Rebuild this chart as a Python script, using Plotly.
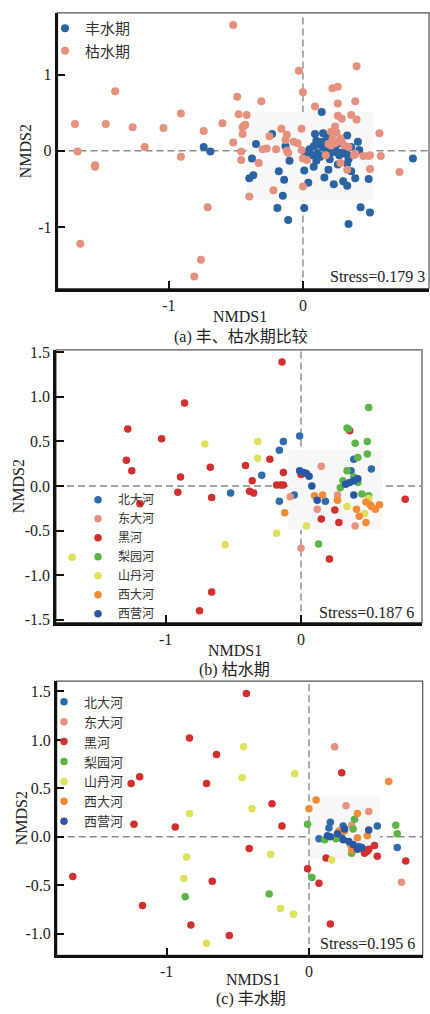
import plotly.graph_objects as go

# ---------------- Panel (a) data ----------------
a_wet_x = [-0.74, -0.69, -0.35, -0.23, -0.13, 0.14, 0.09, 0.15, 0.18, 0.33, 0.10, 0.41, 0.42,
           0.05, 0.08, 0.12, 0.15, 0.11, 0.07, 0.13, 0.18, 0.22, 0.26, 0.29, 0.33, 0.27, 0.31,
           0.20, 0.24, 0.17, 0.36, 0.03, 0.14, 0.20, 0.28,
           -0.38, -0.10, 0.01, 0.10, 0.20, 0.34, 0.33, 0.26, 0.08, 0.01, 0.19, -0.18, 0.36,
           -0.37, -0.40, -0.14, 0.16, 0.04, 0.23, 0.30, 0.33, 0.39, 0.49, -0.15, 0.82,
           -0.19, 0.01, 0.43, 0.50, -0.11, 0.34]
a_wet_y = [0.05, -0.01, 0.09, 0.22, 0.06, 0.51, 0.22, 0.23, 0.17, 0.20, 0.13, 0.12, 0.01,
           0.02, 0.06, 0.08, 0.05, -0.03, -0.06, -0.08, 0.02, -0.02, -0.02, -0.04, -0.05, -0.06, -0.01,
           0.07, 0.04, -0.04, 0.05, -0.02, 0.12, 0.12, 0.10,
           -0.10, -0.13, -0.09, -0.13, -0.11, -0.11, -0.17, -0.18, -0.21, -0.26, -0.25, -0.27, -0.27,
           -0.32, -0.36, -0.38, -0.35, -0.42, -0.44, -0.40, -0.46, -0.36, -0.37, -0.59, -0.10,
           -0.75, -0.75, -0.74, -0.81, -0.91, -0.96]

a_dry_x = [-0.52, -0.03, 0.40, 0.00, -1.40, 0.22, 0.26, -0.49, -0.31, 0.26, 0.39, 0.09,
           -0.91, -0.48, -0.42, 0.26, 0.29, 0.36, 0.40, -1.70, -1.47, -1.27, -1.04, -0.60,
           -0.44, -0.43, -0.45, -0.74, -0.45, -0.01, -0.16, 0.24, 0.21, 0.25, 0.57, -0.25,
           -0.12, -0.52, -0.07, -0.04, -0.13, 0.22, 0.25, 0.28, 0.24, 0.29, 0.19, 0.21, 0.31,
           0.34, -1.18, -1.68, -0.91, -0.46, -0.46, -0.30, -0.27, -0.20, -0.12, -0.01, -1.55,
           -1.55, -0.33, -0.11, 0.00, 0.03, 0.17, 0.28, 0.33, 0.38, 0.39, 0.45, 0.49, 0.50,
           0.58, 0.50, 0.72, -0.22, 0.00, -0.40, -0.71, -1.66, -0.76, -0.81]
a_dry_y = [1.65, 1.05, 1.11, 0.77, 0.78, 0.82, 0.84, 0.71, 0.65, 0.62, 0.65, 0.58,
           0.49, 0.48, 0.47, 0.46, 0.42, 0.47, 0.41, 0.35, 0.35, 0.31, 0.30, 0.36,
           0.33, 0.34, 0.31, 0.26, 0.22, 0.29, 0.29, 0.32, 0.25, 0.24, 0.23, 0.19,
           0.21, 0.11, 0.12, 0.10, 0.14, 0.15, 0.12, 0.16, 0.10, 0.12, 0.09, 0.07, 0.07,
           0.05, 0.05, -0.01, -0.08, -0.01, -0.12, 0.02, 0.03, 0.02, 0.00, 0.01, -0.19,
           -0.21, -0.16, -0.03, -0.10, -0.12, -0.06, -0.16, -0.25, -0.06, -0.04, -0.07, -0.07, -0.06,
           -0.07, -0.24, -0.28, -0.52, -0.47, -0.60, -0.74, -1.22, -1.43, -1.65]

# ---------------- Panel (b) data: 枯水期 ----------------
b_beida_x = [-0.01, -0.13, -0.16, -0.29, -0.52, -0.16, -0.05, 0.39, 0.37, 0.52, 0.18]
b_beida_y = [0.56, 0.50, 0.40, 0.12, -0.08, -0.17, -0.10, 0.30, 0.17, 0.19, -0.17]
b_dongda_x = [0.15, -0.08, 0.27, 0.12, 0.40, 0.00]
b_dongda_y = [0.22, -0.12, -0.10, -0.26, -0.45, -0.70]
b_hei_x = [-0.14, -0.86, -1.28, -1.03, -1.29, -1.25, -0.67, -0.89, -0.41, -0.23, -0.36, -0.13,
           -0.18, -0.15, -0.13, -0.91, -0.38, -0.35, -0.66, -1.19, 0.00, 0.36, 0.77, -0.66,
           -0.75, 0.15, 0.28, 0.25, 0.21]
b_hei_y = [1.39, 0.93, 0.64, 0.53, 0.29, 0.17, 0.21, 0.10, 0.23, 0.30, 0.06, 0.15,
           0.01, 0.01, 0.01, -0.07, -0.06, -0.08, -0.13, -0.20, 0.13, 0.62, -0.15, -1.19,
           -1.40, -0.37, -0.41, -0.27, -0.82]
b_liyuan_x = [0.50, 0.35, 0.34, 0.40, 0.49, 0.42, 0.49, 0.34, 0.39, 0.31, 0.42, 0.29, 0.45, 0.50, 0.13]
b_liyuan_y = [0.88, 0.64, 0.65, 0.48, 0.50, 0.32, 0.36, 0.17, 0.10, 0.06, 0.04, -0.02, -0.09, -0.11, -0.65]
b_shandan_x = [-0.71, -0.32, -0.32, -1.69, -0.56, -0.18, 0.04, 0.34, 0.47, 0.50]
b_shandan_y = [0.47, 0.50, 0.31, -0.80, -0.66, -0.53, -0.45, -0.23, -0.31, -0.14]
b_xida_x = [0.10, 0.16, 0.27, 0.48, 0.51, 0.58, -0.12, 0.41, 0.43, 0.55, 0.52, 0.48]
b_xida_y = [-0.11, -0.10, -0.16, -0.18, -0.21, -0.21, -0.30, -0.26, -0.34, -0.26, -0.23, -0.41]
b_xiying_x = [-0.01, 0.02, 0.04, 0.06, 0.08, 0.42, 0.39, 0.36, 0.33, 0.39, 0.12]
b_xiying_y = [0.17, 0.15, 0.14, 0.11, 0.00, 0.08, 0.06, 0.04, 0.02, -0.10, -0.16]

# ---------------- Panel (c) data: 丰水期 ----------------
c_beida_x = [0.15, 0.48, 0.07, 0.14, 0.24, 0.62, 0.35, 0.38, 0.23]
c_beida_y = [0.15, 0.11, -0.02, 0.09, 0.11, -0.11, -0.10, -0.13, -0.01]
c_dongda_x = [0.18, 0.26, 0.42, 0.30, 0.65]
c_dongda_y = [0.93, 0.32, 0.26, 0.12, -0.47]
c_hei_x = [-0.44, -0.84, -0.65, -1.19, -1.25, -0.72, -0.26, -1.23, -0.94, -0.19, 0.23, -0.42,
           -1.66, -0.68, -1.17, -0.83, -0.56, -0.01, 0.07, 0.15, 0.12, 0.48, 0.68, 0.46,
           0.39, 0.41, 0.42]
c_hei_y = [1.48, 1.02, 0.85, 0.62, 0.55, 0.55, 0.34, 0.13, 0.10, 0.11, 0.66, -0.12,
           -0.41, -0.46, -0.71, -0.91, -1.02, -0.33, -0.48, -0.90, -0.22, -0.20, -0.25, -0.09,
           -0.17, -0.15, -0.13]
c_liyuan_x = [-0.01, 0.61, 0.62, 0.32, 0.31, -0.87, -0.28, 0.02, 0.11, 0.19, 0.30]
c_liyuan_y = [0.13, 0.12, 0.03, 0.18, 0.08, -0.62, -0.59, -0.42, -0.03, -0.02, -0.17]
c_shandan_x = [-0.46, -0.47, -0.10, -0.40, -0.84, -0.86, -0.27, -0.88, -0.20, -0.11, -0.72, 0.16]
c_shandan_y = [0.93, 0.61, 0.65, 0.29, 0.24, -0.21, -0.18, -0.43, -0.74, -0.80, -1.10, -0.24]
c_xida_x = [0.05, 0.00, 0.56, 0.34, 0.21, 0.25, 0.34, 0.41, 0.29, 0.30]
c_xida_y = [0.38, 0.29, 0.57, 0.24, 0.06, 0.06, -0.01, 0.01, -0.08, -0.14]
c_xiying_x = [0.42, 0.13, 0.25, 0.24, 0.37, 0.34, 0.15, 0.28, 0.31, 0.20]
c_xiying_y = [0.07, 0.01, 0.08, -0.03, -0.11, -0.13, 0.00, -0.05, -0.08, 0.03]

river_names = ["北大河", "东大河", "黑河", "梨园河", "山丹河", "西大河", "西营河"]
river_colors = ["#2f6cae", "#e8917f", "#d2302e", "#5cb646", "#dfe05c", "#f28b35", "#2a57a5"]
b_series = [(b_beida_x, b_beida_y), (b_dongda_x, b_dongda_y), (b_hei_x, b_hei_y),
            (b_liyuan_x, b_liyuan_y), (b_shandan_x, b_shandan_y), (b_xida_x, b_xida_y),
            (b_xiying_x, b_xiying_y)]
c_series = [(c_beida_x, c_beida_y), (c_dongda_x, c_dongda_y), (c_hei_x, c_hei_y),
            (c_liyuan_x, c_liyuan_y), (c_shandan_x, c_shandan_y), (c_xida_x, c_xida_y),
            (c_xiying_x, c_xiying_y)]

stress_labels = ["Stress=0.179 3", "Stress=0.187 6", "Stress=0.195 6"]
captions = ["(a) 丰、枯水期比较", "(b) 枯水期", "(c) 丰水期"]

W, H = 430, 1014
SERIF = "Liberation Serif, Times New Roman, serif"
CJK = "Noto Sans CJK SC"
MIX = "Liberation Serif, Noto Sans CJK SC"

fig = go.Figure()

# panel a traces
fig.add_trace(go.Scatter(x=a_wet_x, y=a_wet_y, mode="markers", name="丰水期",
                         marker=dict(size=8, color="#2c63a2"), xaxis="x", yaxis="y",
                         legend="legend"))
fig.add_trace(go.Scatter(x=a_dry_x, y=a_dry_y, mode="markers", name="枯水期",
                         marker=dict(size=8, color="#e5917e"), xaxis="x", yaxis="y",
                         legend="legend"))
for (xs, ys), nm, col in zip(b_series, river_names, river_colors):
    fig.add_trace(go.Scatter(x=xs, y=ys, mode="markers", name=nm,
                             marker=dict(size=7.5, color=col), xaxis="x2", yaxis="y2",
                             legend="legend2"))
for (xs, ys), nm, col in zip(c_series, river_names, river_colors):
    fig.add_trace(go.Scatter(x=xs, y=ys, mode="markers", name=nm,
                             marker=dict(size=7.5, color=col), xaxis="x3", yaxis="y3",
                             legend="legend3"))

# panel geometry in pixels (left, right, top, bottom)
panels = [
    dict(l=57.5, r=429, t=7, b=286, xr=[-1.83, 0.94], yr=[-1.81, 1.81],
         yt=[-1, 0, 1], ytt=["-1", "0", "1"]),
    dict(l=56, r=422, t=348, b=624, xr=[-1.81, 0.894], yr=[-1.533, 1.527],
         yt=[-1.5, -1.0, -0.5, 0.0, 0.5, 1.0, 1.5],
         ytt=["-1.5", "-1.0", "-0.5", "0.0", "0.5", "1.0", "1.5"]),
    dict(l=56.7, r=422.7, t=683.3, b=960.7, xr=[-1.773, 0.799], yr=[-1.224, 1.606],
         yt=[-1.0, -0.5, 0.0, 0.5, 1.0, 1.5],
         ytt=["-1.0", "-0.5", "0.0", "0.5", "1.0", "1.5"]),
]

axis_common = dict(showgrid=False, zeroline=False, showline=True, linecolor="#111",
                   linewidth=2.5, mirror=False, ticks="inside", ticklen=8, tickwidth=2.2,
                   tickcolor="#111", tickfont=dict(family=SERIF, size=16, color="#222"))

layout = dict(width=W, height=H, margin=dict(l=0, r=0, t=0, b=0),
              paper_bgcolor="white", plot_bgcolor="white", shapes=[], annotations=[])

insets = [(-0.42, 0.525, -0.65, 0.51), (-0.094, 0.596, -0.49, 0.40), (0.007, 0.50, -0.23, 0.415)]
for i, p in enumerate(panels):
    sx = "" if i == 0 else str(i + 1)
    layout["xaxis" + sx] = dict(axis_common, domain=[p["l"] / W, p["r"] / W], range=p["xr"],
                                 anchor="y" + sx, tickvals=[-1, 0], ticktext=["-1", "0"])
    layout["yaxis" + sx] = dict(axis_common, domain=[1 - p["b"] / H, 1 - p["t"] / H],
                                 range=p["yr"], anchor="x" + sx, tickvals=p["yt"],
                                 ticktext=p["ytt"])
    xr_, yr_ = "x" + sx, "y" + sx
    x0, x1, y0, y1 = insets[i]
    layout["shapes"] += [
        dict(type="rect", xref=xr_, yref=yr_, x0=x0, x1=x1, y0=y0, y1=y1,
             fillcolor="#f7f7f7", line=dict(width=0), layer="below"),
        dict(type="rect", xref=xr_ + " domain", yref=yr_ + " domain", x0=0, x1=1, y0=0, y1=1,
             line=dict(color="#555", width=1.2), layer="below"),
        dict(type="line", xref=xr_, yref=yr_ + " domain", x0=0, x1=0, y0=0, y1=1,
             line=dict(color="#8a8a8a", width=1.4, dash="7px,4px"), layer="below"),
        dict(type="line", xref=xr_ + " domain", yref=yr_, x0=0, x1=1, y0=0, y1=0,
             line=dict(color="#8a8a8a", width=1.4, dash="7px,4px"), layer="below"),
    ]

def ann(text, xpx, ypx, size=16, family=SERIF, xanchor="center", textangle=0, color="#222"):
    return dict(text=text, x=xpx / W, y=1 - ypx / H, xref="paper", yref="paper",
                showarrow=False, xanchor=xanchor, yanchor="middle", textangle=textangle,
                font=dict(family=family, size=size, color=color))

layout["annotations"] += [
    ann(stress_labels[0], 427, 274, xanchor="right"),
    ann(stress_labels[1], 416, 614, xanchor="right"),
    ann(stress_labels[2], 417, 949, xanchor="right"),
    ann("NMDS1", 240, 314), ann("NMDS1", 235, 652), ann("NMDS1", 252.5, 985),
    ann("NMDS2", 25, 147, textangle=-90), ann("NMDS2", 18, 486, textangle=-90),
    ann("NMDS2", 21, 822, textangle=-90),
    ann(captions[0], 241, 335, family=MIX), ann(captions[1], 234, 672, family=MIX),
    ann(captions[2], 251, 1005, family=MIX),
]

leg_common = dict(bgcolor="rgba(0,0,0,0)", borderwidth=0, xanchor="left", yanchor="top",
                  itemsizing="trace")
layout["legend"] = dict(leg_common, x=45 / W, y=1 - 6 / H,
                        font=dict(family=CJK, size=15, color="#333"))
layout["legend2"] = dict(leg_common, x=78 / W, y=1 - 485 / H,
                         font=dict(family=CJK, size=12, color="#333"))
layout["legend3"] = dict(leg_common, x=44 / W, y=1 - 689 / H,
                         font=dict(family=CJK, size=13, color="#333"))

fig.update_layout(**layout)
fig.write_html("out.html", config={"displayModeBar": False},
               post_script="document.body.style.margin='0';")
